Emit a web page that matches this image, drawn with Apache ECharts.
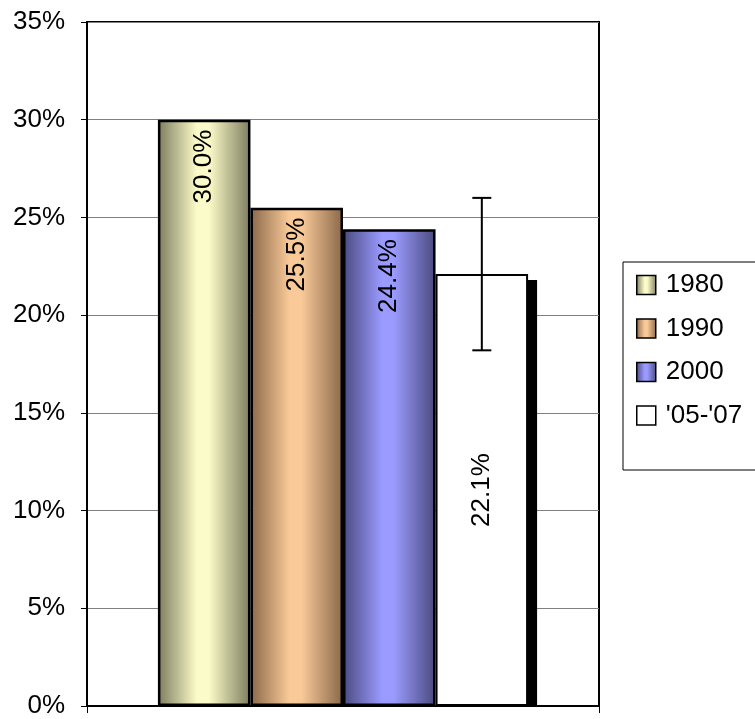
<!DOCTYPE html>
<html>
<head>
<meta charset="utf-8">
<script src="https://cdn.jsdelivr.net/npm/echarts@6/dist/echarts.min.js"></script>
<style>
html,body{margin:0;padding:0;background:#fff;}
#chart{width:755px;height:719px;}
</style>
</head>
<body>
<div id="chart"></div>
<script>
const categories = [''];
const seriesNames = ['1980', '1990', '2000', "'05-'07"];
const values1980 = [30.0];
const values1990 = [25.5];
const values2000 = [24.4];
const values0507 = [22.1];
const errorLow0507 = [18.2];
const errorHigh0507 = [26.0];
const yTicks = [0, 5, 10, 15, 20, 25, 30, 35];

const FONT = 'Liberation Sans, Arial, sans-serif';
const FS = 26;
const GAP = 0.277;

function grad(edge, center) {
  return new echarts.graphic.LinearGradient(0, 0, 1, 0, [
    {offset: 0, color: edge},
    {offset: 0.42, color: center},
    {offset: 0.55, color: center},
    {offset: 1, color: edge}
  ]);
}

const topLabel = {
  show: true, position: 'insideTop', rotate: 90, align: 'right', verticalAlign: 'middle',
  distance: 10, fontFamily: FONT, fontSize: FS, color: '#000',
  formatter: p => p.value.toFixed(1) + '%'
};

const chart = echarts.init(document.getElementById('chart'), null, {renderer: 'canvas'});
chart.setOption({
  animation: false,
  backgroundColor: '#fff',
  grid: {left: 87, right: 156, top: 22, bottom: 7, show: true, borderColor: '#000', borderWidth: 2, containLabel: false},
  legend: {
    orient: 'vertical', left: 623, top: 262,
    data: seriesNames,
    itemWidth: 19, itemHeight: 19, itemGap: 17.5,
    padding: [10, 30, 41.5, 13],
    borderColor: '#000', borderWidth: 1,
    textStyle: {fontFamily: FONT, fontSize: FS, color: '#000', padding: [0, 0, 0, 5]},
    icon: 'rect',
    itemStyle: {borderColor: '#000', borderWidth: 1.5, shadowColor: 'rgba(0,0,0,0)', shadowOffsetX: 0, shadowOffsetY: 0}
  },
  xAxis: {
    type: 'category', data: categories,
    axisLine: {lineStyle: {color: '#000', width: 2}},
    axisTick: {show: true, length: 7, lineStyle: {color: '#000', width: 1}},
    axisLabel: {show: false},
    splitLine: {show: false}
  },
  yAxis: {
    type: 'value', min: yTicks[0], max: yTicks[yTicks.length - 1], interval: yTicks[1] - yTicks[0],
    axisLine: {show: true, lineStyle: {color: '#000', width: 2}},
    axisTick: {show: true, length: 6, lineStyle: {color: '#000', width: 1}},
    axisLabel: {fontFamily: FONT, fontSize: FS, color: '#000', margin: 22, formatter: '{value}%'},
    splitLine: {show: true, lineStyle: {color: '#808080', width: 1}}
  },
  series: [
    {name: seriesNames[0], type: 'bar', data: values1980, barGap: '0%', barCategoryGap: (GAP * 100) + '%',
     itemStyle: {color: grad('#7c7c5e', '#fbfbc9'), borderColor: '#000', borderWidth: 2.5}, label: topLabel},
    {name: seriesNames[1], type: 'bar', data: values1990, barGap: '0%',
     itemStyle: {color: grad('#8a684a', '#f9c998'), borderColor: '#000', borderWidth: 2.5}, label: topLabel},
    {name: seriesNames[2], type: 'bar', data: values2000, barGap: '0%',
     itemStyle: {color: grad('#4a4a7e', '#9a9aff'), borderColor: '#000', borderWidth: 2.5}, label: topLabel},
    {name: seriesNames[3], type: 'bar', data: values0507, barGap: '0%', z: 3,
     itemStyle: {color: '#fff', borderColor: '#000', borderWidth: 2},
     label: Object.assign({}, topLabel, {position: 'inside', align: 'center', verticalAlign: 'middle'})},
    {name: 'shadow', type: 'custom', z: 2,
     data: categories.map((c, i) => [i, values0507[i]]),
     encode: {x: 0, y: 1},
     renderItem: function (params, api) {
       const cx = api.coord([api.value(0), 0])[0];
       const bandW = api.size([1, 0])[0];
       const barW = bandW * (1 - GAP) / 4;
       const right = cx + 2 * barW;
       const yTop = api.coord([api.value(0), api.value(1)])[1];
       const yBot = api.coord([api.value(0), 0])[1];
       return {type: 'rect', shape: {x: right - 1, y: yTop + 6, width: 10, height: yBot - yTop - 6}, style: {fill: '#000'}};
     }},
    {name: 'err', type: 'custom', z: 5,
     data: categories.map((c, i) => [i, errorLow0507[i], errorHigh0507[i]]),
     encode: {x: 0, y: [1, 2]},
     renderItem: function (params, api) {
       const cx = api.coord([api.value(0), 0])[0];
       const bandW = api.size([1, 0])[0];
       const barW = bandW * (1 - GAP) / 4;
       const x = cx + 1.5 * barW;
       const yLo = api.coord([api.value(0), api.value(1)])[1];
       const yHi = api.coord([api.value(0), api.value(2)])[1];
       const hw = 9.5;
       const st = {stroke: '#000', lineWidth: 2, fill: null};
       return {type: 'group', children: [
         {type: 'line', shape: {x1: x, y1: yLo, x2: x, y2: yHi}, style: st},
         {type: 'line', shape: {x1: x - hw, y1: yLo, x2: x + hw, y2: yLo}, style: st},
         {type: 'line', shape: {x1: x - hw, y1: yHi, x2: x + hw, y2: yHi}, style: st}
       ]};
     }}
  ]
});
</script>
</body>
</html>
